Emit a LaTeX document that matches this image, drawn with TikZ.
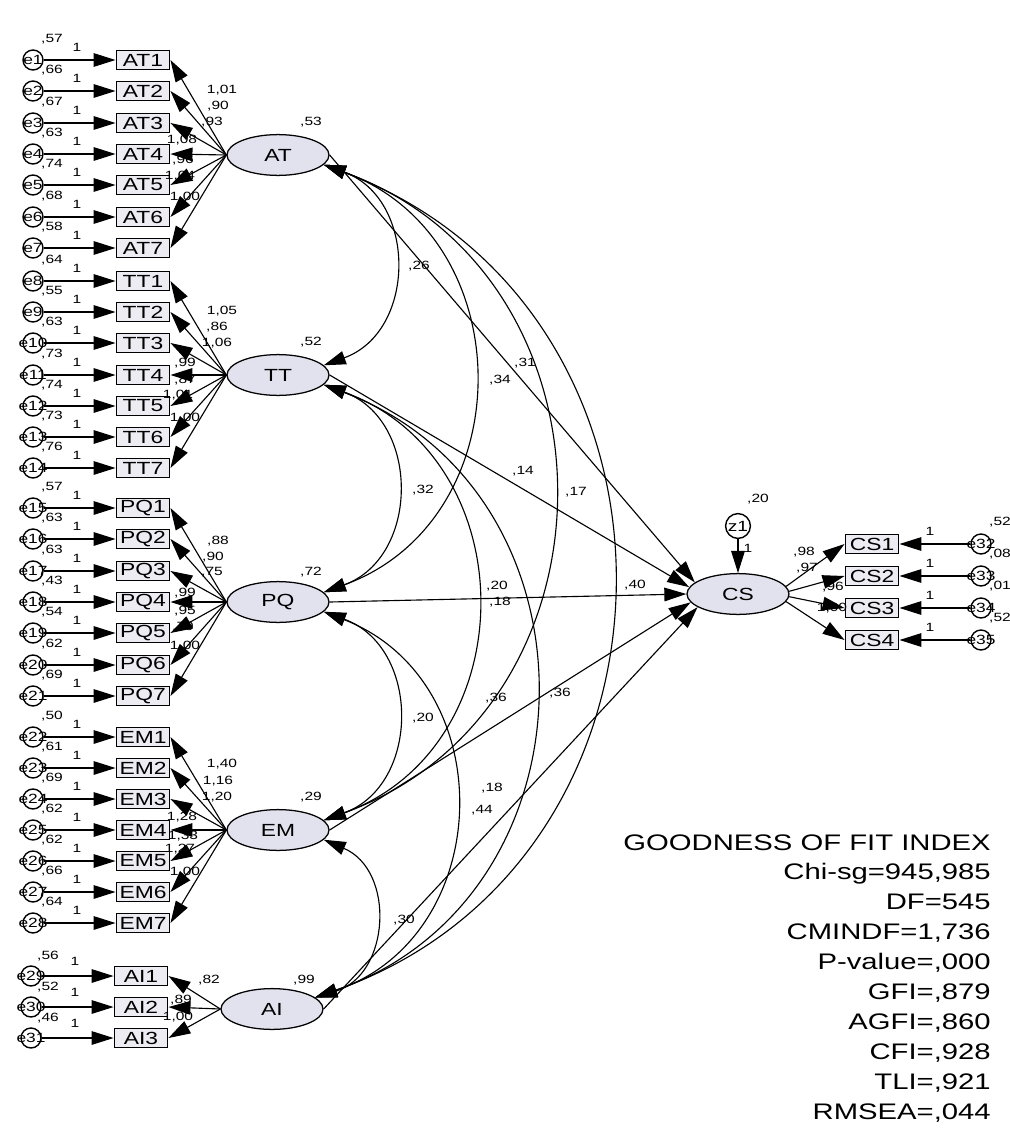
\documentclass[tikz,border=0pt]{standalone}
\usepackage{fontspec}
\setmainfont[FakeStretch=1.3]{Liberation Sans}
\usetikzlibrary{arrows.meta,positioning,shapes.geometric}
\definecolor{latfill}{HTML}{E2E2EE}
\definecolor{boxfill}{HTML}{ECECF2}

\begin{document}
\begin{tikzpicture}[
    x=0.025cm, y=-0.025cm,
    every node/.style={inner sep=0pt},
    latent/.style={draw, ellipse, fill=latfill, line width=0.9pt,
      minimum width=2.55cm, minimum height=1.02cm,
      font=\fontsize{12.5}{13}\selectfont},
    item/.style={draw, fill=boxfill, line width=1.2pt,
      minimum width=1.33cm, minimum height=0.48cm,
      font=\fontsize{12.5}{13}\selectfont},
    err/.style={draw, circle, fill=white, line width=1pt,
      minimum size=0.5cm},
    errtxt/.style={font=\fontsize{9.5}{10}\selectfont},
    val/.style={font=\fontsize{8.5}{9}\selectfont},
    reg/.style={line width=0.8pt, -{Triangle[length=5.5mm,width=3.4mm]}},
    cov/.style={line width=0.8pt,
      {Triangle[length=5.5mm,width=3.4mm]}-{Triangle[length=5.5mm,width=3.4mm]}},
    bow/.style={bend left=70, looseness=1.27},
    fitbox/.style={align=right, font=\fontsize{16}{21.3}\selectfont}
  ]
  \useasboundingbox (0,0) rectangle (1009,1130);

  % latent factors
  \node[latent] (AT) at (278,155) {AT};
  \node[latent] (TT) at (278,375) {TT};
  \node[latent] (PQ) at (278,602) {PQ};
  \node[latent] (EM) at (278,830) {EM};
  \node[latent] (AI) at (272,1009) {AI};
  \node[latent] (CS) at (738,594) {CS};

  \node[val] (vAT) at (311,122) {,53};
  \node[val] (vTT) at (311,342) {,52};
  \node[val] (vPQ) at (311,572) {,72};
  \node[val] (vEM) at (311,797) {,29};
  \node[val] (vAI) at (304,980) {,99};

  % AT items
  \foreach \n/\ix/\y/\ev/\ld/\lx/\ly in {
      AT1/1/60/{,57}/{1,01}/222/90, AT2/2/91/{,66}/{,90}/218/106,
      AT3/3/123/{,67}/{,93}/212/122, AT4/4/154/{,63}/{1,08}/182/140,
      AT5/5/185/{,74}/{,96}/183/160, AT6/6/217/{,68}/{1,04}/180/176,
      AT7/7/248/{,58}/{1,00}/185/197}{
    \node[item] (\n) at (143,\y) {\n};
    \node[err, label={[errtxt]center:e\ix}] (e\ix) at (33,\y) {};
    \draw[reg] (e\ix) -- (\n);
    \draw[reg] (AT.west) -- (\n.east);
    \node[val] (one\ix) at (77,\y-13) {1};
    \node[val] (var\ix) at (52,\y-21) {\ev};
    \node[val] (ld\ix) at (\lx,\ly) {\ld};
  }

  % TT items
  \foreach \n/\ix/\y/\ev/\ld/\lx/\ly in {
      TT1/8/281/{,64}/{1,05}/222/311, TT2/9/312/{,55}/{,86}/217/327,
      TT3/10/343/{,63}/{1,06}/217/343, TT4/11/375/{,73}/{,99}/185/363,
      TT5/12/406/{,74}/{,87}/185/380, TT6/13/437/{,73}/{1,01}/178/395,
      TT7/14/468/{,76}/{1,00}/185/418}{
    \node[item] (\n) at (143,\y) {\n};
    \node[err, label={[errtxt]center:e\ix}] (e\ix) at (33,\y) {};
    \draw[reg] (e\ix) -- (\n);
    \draw[reg] (TT.west) -- (\n.east);
    \node[val] (one\ix) at (77,\y-13) {1};
    \node[val] (var\ix) at (52,\y-21) {\ev};
    \node[val] (ld\ix) at (\lx,\ly) {\ld};
  }

  % PQ items
  \foreach \n/\ix/\y/\ev/\ld/\lx/\ly in {
      PQ1/15/508/{,57}/{,88}/218/541, PQ2/16/539/{,63}/{,90}/213/557,
      PQ3/17/571/{,63}/{,75}/212/572, PQ4/18/602/{,43}/{,99}/185/593,
      PQ5/19/633/{,54}/{,95}/185/611, PQ6/20/665/{,62}/{,79}/183/627,
      PQ7/21/696/{,69}/{1,00}/185/646}{
    \node[item] (\n) at (143,\y) {\n};
    \node[err, label={[errtxt]center:e\ix}] (e\ix) at (33,\y) {};
    \draw[reg] (e\ix) -- (\n);
    \draw[reg] (PQ.west) -- (\n.east);
    \node[val] (one\ix) at (77,\y-13) {1};
    \node[val] (var\ix) at (52,\y-21) {\ev};
    \node[val] (ld\ix) at (\lx,\ly) {\ld};
  }

  % EM items
  \foreach \n/\ix/\y/\ev/\ld/\lx/\ly in {
      EM1/22/737/{,50}/{1,40}/222/764, EM2/23/768/{,61}/{1,16}/218/781,
      EM3/24/799/{,69}/{1,20}/217/797, EM4/25/830/{,62}/{1,28}/182/817,
      EM5/26/861/{,62}/{1,33}/183/836, EM6/27/892/{,66}/{1,27}/180/849,
      EM7/28/923/{,64}/{1,00}/185/872}{
    \node[item] (\n) at (143,\y) {\n};
    \node[err, label={[errtxt]center:e\ix}] (e\ix) at (33,\y) {};
    \draw[reg] (e\ix) -- (\n);
    \draw[reg] (EM.west) -- (\n.east);
    \node[val] (one\ix) at (77,\y-13) {1};
    \node[val] (var\ix) at (52,\y-21) {\ev};
    \node[val] (ld\ix) at (\lx,\ly) {\ld};
  }

  % AI items
  \foreach \n/\ix/\y/\ev/\ld/\lx/\ly in {
      AI1/29/976/{,56}/{,82}/209/980, AI2/30/1007/{,52}/{,89}/181/1000,
      AI3/31/1038/{,46}/{1,00}/178/1017}{
    \node[item] (\n) at (141,\y) {\n};
    \node[err, label={[errtxt]center:e\ix}] (e\ix) at (31,\y) {};
    \draw[reg] (e\ix) -- (\n);
    \draw[reg] (AI.west) -- (\n.east);
    \node[val] (one\ix) at (75,\y-15) {1};
    \node[val] (var\ix) at (48,\y-20) {\ev};
    \node[val] (ld\ix) at (\lx,\ly) {\ld};
  }

  % CS items
  \node[err, minimum size=0.62cm, font=\fontsize{10.5}{11}\selectfont] (z1) at (738,526) {z1};
  \draw[reg] (z1) -- (CS);
  \node[val] (onez) at (748,548) {1};
  \node[val] (varz) at (758,499) {,20};
  \foreach \n/\ix/\y/\ev/\ld/\lx/\ly/\a in {
      CS1/32/544/{,52}/{,98}/804/552/9, CS2/33/576/{,08}/{,97}/807/568/3,
      CS3/34/608/{,01}/{,96}/833/587/-3, CS4/35/640/{,52}/{1,00}/832/608/-9}{
    \node[item] (\n) at (872,\y) {\n};
    \node[err, label={[errtxt]center:e\ix}] (e\ix) at (981,\y) {};
    \draw[reg] (e\ix) -- (\n);
    \draw[reg] (CS.\a) -- (\n.west);
    \node[val] (one\ix) at (930,\y-13) {1};
    \node[val] (var\ix) at (1000,\y-22) {\ev};
    \node[val] (ld\ix) at (\lx,\ly) {\ld};
  }

  % paths to CS
  \draw[reg] (AT.east) -- (CS.165);
  \draw[reg] (TT.east) -- (CS.172);
  \draw[reg] (PQ.east) -- (CS.180);
  \draw[reg] (EM.east) -- (CS.190);
  \draw[reg] (AI.east) -- (CS.198);
  \node[val] (bAT) at (525,363) {,31};
  \node[val] (bTT) at (523,471) {,14};
  \node[val] (bPQ) at (500,602) {,18};
  \node[val] (bEM) at (496,698) {,36};
  \node[val] (bAI) at (492,788) {,18};

  % covariances
  \draw[cov] (AT.-12) to[bow] (TT.12);
  \draw[cov] (TT.-12) to[bow] (PQ.12);
  \draw[cov] (PQ.-12) to[bow] (EM.12);
  \draw[cov] (EM.-12) to[bow] (AI.15);
  \draw[cov] (AT.-12) to[bow] (PQ.12);
  \draw[cov] (TT.-12) to[bow] (EM.12);
  \draw[cov] (PQ.-12) to[bow] (AI.15);
  \draw[cov] (AT.-12) to[bow] (EM.12);
  \draw[cov] (TT.-12) to[bow] (AI.15);
  \draw[cov] (AT.-12) to[bow] (AI.15);
  \node[val] (cATTT) at (419,266) {,26};
  \node[val] (cTTPQ) at (423,490) {,32};
  \node[val] (cPQEM) at (423,718) {,20};
  \node[val] (cEMAI) at (404,920) {,30};
  \node[val] (cATPQ) at (500,380) {,34};
  \node[val] (cTTEM) at (497,586) {,20};
  \node[val] (cPQAI) at (482,810) {,44};
  \node[val] (cATEM) at (576,492) {,17};
  \node[val] (cTTAI) at (560,693) {,36};
  \node[val] (cATAI) at (635,585) {,40};

  % fit indices
  \node[fitbox, anchor=north east] (gof) at (991,834) {GOODNESS OF FIT INDEX\\
    Chi-sg=945,985\\DF=545\\CMINDF=1,736\\P-value=,000\\GFI=,879\\
    AGFI=,860\\CFI=,928\\TLI=,921\\RMSEA=,044};

\end{tikzpicture}
\end{document}
